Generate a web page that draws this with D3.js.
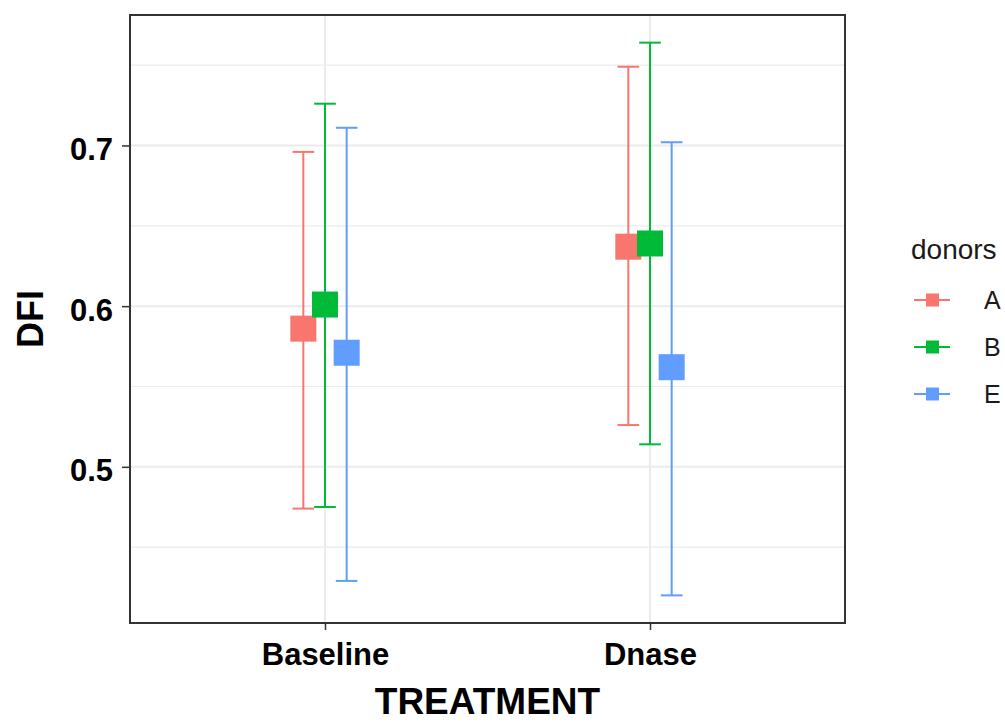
<!DOCTYPE html>
<html>
<head>
<meta charset="utf-8">
<script src="https://cdn.jsdelivr.net/npm/d3@7"></script>
<style>
  body { margin: 0; background: #fff; }
  text { font-family: "Liberation Sans", Arial, sans-serif; }
</style>
</head>
<body>
<div id="chart"></div>
<script>
// data
const treatments = ["Baseline", "Dnase"]
const donors = ["A", "B", "E"]
const colours = ["#F8766D", "#00BA38", "#619CFF"]
// one row per donor, one value per treatment
const meanA = [0.586, 0.637], lowA = [0.474, 0.526], highA = [0.696, 0.749]
const meanB = [0.601, 0.639], lowB = [0.475, 0.514], highB = [0.726, 0.764]
const meanE = [0.571, 0.562], lowE = [0.429, 0.420], highE = [0.711, 0.702]
const yTicks = [0.5, 0.6, 0.7]
const yMinor = [0.45, 0.55, 0.65, 0.75]

const means = [meanA, meanB, meanE],
      lows = [lowA, lowB, lowE],
      highs = [highA, highB, highE]

let rows = []
donors.forEach((d, i) => {
  treatments.forEach((t, j) => {
    rows.push({donor: d, treatment: t, mean: means[i][j], low: lows[i][j], high: highs[i][j]})
  })
})

// canvas
const width = 1005,
      height = 722,
      panelLeft = 130, panelRight = 845, panelTop = 15, panelBottom = 623

let svg = d3.select('#chart')
  .append('svg')
  .attr('width', width)
  .attr('height', height)

// scales, 5% expansion like ggplot
let lo = d3.min(rows, d => d.low), hi = d3.max(rows, d => d.high)
let pad = (hi - lo) * 0.05
let y = d3.scaleLinear().domain([lo - pad, hi + pad]).range([panelBottom, panelTop])
let x = d3.scalePoint().domain(treatments).range([panelLeft, panelRight]).padding(0.6)
let dodge = d3.scaleBand().domain(donors).range([-x.step() * 0.1, x.step() * 0.1])
let colour = d3.scaleOrdinal().domain(donors).range(colours)
let cx = d => x(d.treatment) + dodge(d.donor) + dodge.bandwidth() / 2

// grid
svg.append('g').selectAll('line')
  .data(yMinor).enter().append('line')
  .attr('x1', panelLeft).attr('x2', panelRight)
  .attr('y1', d => y(d)).attr('y2', d => y(d))
  .attr('stroke', '#EBEBEB').attr('stroke-width', 1.2)
svg.append('g').selectAll('line')
  .data(yTicks).enter().append('line')
  .attr('x1', panelLeft).attr('x2', panelRight)
  .attr('y1', d => y(d)).attr('y2', d => y(d))
  .attr('stroke', '#EBEBEB').attr('stroke-width', 2)
svg.append('g').selectAll('line')
  .data(treatments).enter().append('line')
  .attr('x1', d => x(d)).attr('x2', d => x(d))
  .attr('y1', panelTop).attr('y2', panelBottom)
  .attr('stroke', '#EBEBEB').attr('stroke-width', 2)

// error bars
let bars = svg.append('g').selectAll('g')
  .data(rows).enter().append('g')
  .attr('stroke', d => colour(d.donor))
  .attr('stroke-width', 2)
bars.append('line')
  .attr('x1', cx).attr('x2', cx)
  .attr('y1', d => y(d.low)).attr('y2', d => y(d.high))
bars.append('line')
  .attr('x1', d => cx(d) - dodge.bandwidth() / 2).attr('x2', d => cx(d) + dodge.bandwidth() / 2)
  .attr('y1', d => y(d.high)).attr('y2', d => y(d.high))
bars.append('line')
  .attr('x1', d => cx(d) - dodge.bandwidth() / 2).attr('x2', d => cx(d) + dodge.bandwidth() / 2)
  .attr('y1', d => y(d.low)).attr('y2', d => y(d.low))

// points
const sq = 26
svg.append('g').selectAll('rect')
  .data(rows).enter().append('rect')
  .attr('x', d => cx(d) - sq / 2)
  .attr('y', d => y(d.mean) - sq / 2)
  .attr('width', sq).attr('height', sq)
  .attr('fill', d => colour(d.donor))

// panel border
svg.append('rect')
  .attr('x', panelLeft).attr('y', panelTop)
  .attr('width', panelRight - panelLeft).attr('height', panelBottom - panelTop)
  .attr('fill', 'none').attr('stroke', '#333').attr('stroke-width', 2)

// axes
let yAxis = d3.axisLeft(y).tickValues(yTicks).tickSize(8).tickPadding(9).tickFormat(d3.format('.1f'))
let xAxis = d3.axisBottom(x).tickSize(7).tickPadding(14)

let gy = svg.append('g').attr('transform', `translate(${panelLeft},0)`).call(yAxis)
let gx = svg.append('g').attr('transform', `translate(0,${panelBottom})`).call(xAxis)
;[gy, gx].forEach(g => {
  g.select('.domain').remove()
  g.selectAll('.tick line').attr('stroke', '#333').attr('stroke-width', 1.5)
  g.selectAll('.tick text')
    .attr('fill', '#000')
    .style('font-size', '31px')
    .style('font-weight', 'bold')
    .style('font-family', '"Liberation Sans", Arial, sans-serif')
})
gy.selectAll('.tick text').attr('dy', '0.45em')
gx.selectAll('.tick text').attr('dy', '0.68em')

// axis titles
svg.append('text')
  .attr('x', (panelLeft + panelRight) / 2).attr('y', 714)
  .attr('text-anchor', 'middle')
  .style('font-size', '37px').style('font-weight', 'bold')
  .text('TREATMENT')
svg.append('text')
  .attr('transform', `translate(43,${(panelTop + panelBottom) / 2}) rotate(-90)`)
  .attr('text-anchor', 'middle')
  .style('font-size', '36px').style('font-weight', 'bold')
  .text('DFI')

// legend
let legend = svg.append('g').attr('transform', 'translate(911,0)')
legend.append('text')
  .attr('x', 0).attr('y', 259)
  .style('font-size', '28px').attr('fill', '#1a1a1a')
  .text('donors')
let keys = legend.selectAll('g.key')
  .data(donors).enter().append('g')
  .attr('class', 'key')
  .attr('transform', (d, i) => `translate(0,${300 + i * 47})`)
keys.append('line')
  .attr('x1', 3).attr('x2', 39).attr('y1', 0).attr('y2', 0)
  .attr('stroke', d => colour(d)).attr('stroke-width', 2)
keys.append('rect')
  .attr('x', 15).attr('y', -6.5).attr('width', 13).attr('height', 13)
  .attr('fill', d => colour(d))
keys.append('text')
  .attr('x', 73).attr('y', 9)
  .style('font-size', '25px').attr('fill', '#1a1a1a')
  .text(d => d)
</script>
</body>
</html>
